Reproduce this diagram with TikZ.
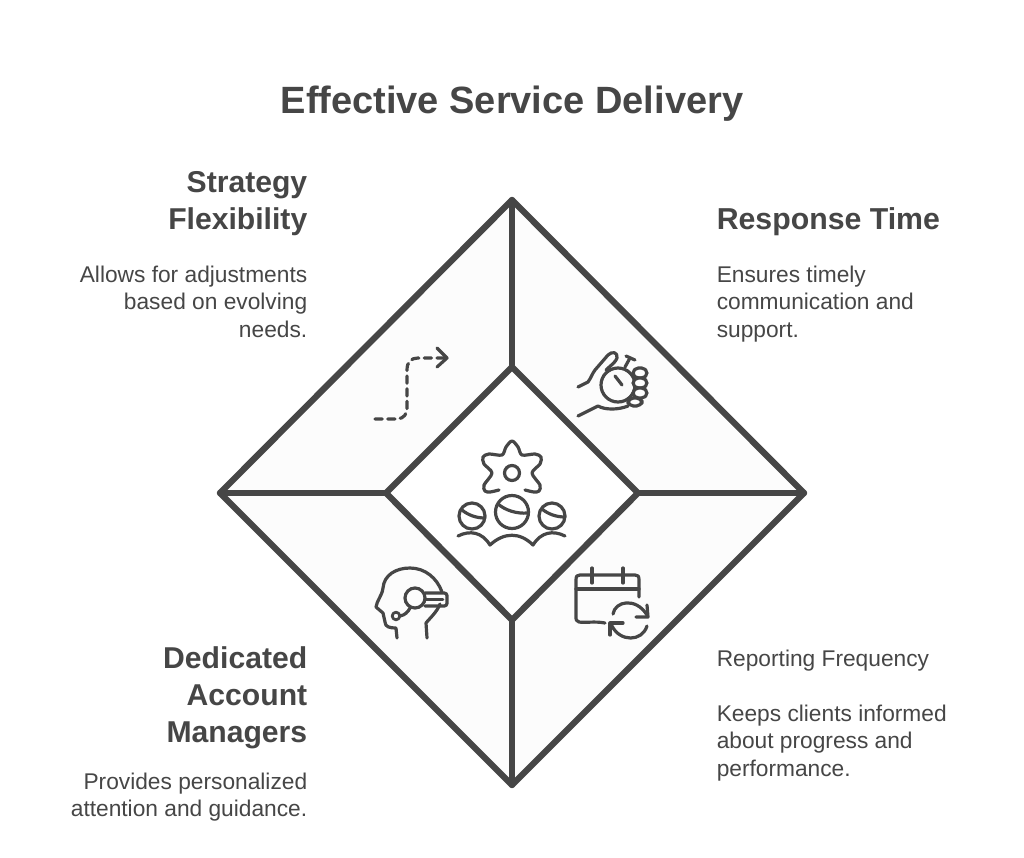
\documentclass[tikz,border=0pt]{standalone}
\usepackage{fontspec}
\setmainfont{Liberation Sans}
\definecolor{ink}{HTML}{464646}
\definecolor{panel}{HTML}{FCFCFC}
\usetikzlibrary{calc}
\begin{document}
\begin{tikzpicture}[x=0.75pt,y=-0.75pt,
  spoke/.style={draw=ink,line width=4.7pt,line cap=round,line join=round},
  icon/.style={draw=ink,line width=2.4pt,line cap=round,line join=round},
  thinicon/.style={draw=ink,line width=2.1pt,line cap=round,line join=round},
  titletext/.style={text=ink,font=\fontsize{28.5}{34}\selectfont\bfseries,inner sep=0pt},
  headL/.style={text=ink,font=\fontsize{22.6}{27.75}\selectfont\bfseries,inner sep=0pt,align=right,anchor=north east},
  headR/.style={text=ink,font=\fontsize{22.7}{27.75}\selectfont\bfseries,inner sep=0pt,align=left,anchor=north west},
  bodyL/.style={text=ink,font=\fontsize{17.05}{20.6}\selectfont,inner sep=0pt,align=right,anchor=north east},
  bodyR/.style={text=ink,font=\fontsize{17.05}{20.6}\selectfont,inner sep=0pt,align=left,anchor=north west}]
\useasboundingbox (0,0) rectangle (1024,857);
\fill[white] (0,0) rectangle (1024,857);

\coordinate (ot) at (512,200); \coordinate (or) at (804,493);
\coordinate (ob) at (512,785); \coordinate (ol) at (220,493);
\coordinate (it) at (512,367); \coordinate (ir) at (638,493);
\coordinate (ib) at (512,620); \coordinate (il) at (386,493);

\path[fill=panel] (ot)--(or)--(ob)--(ol)--cycle;
\path[fill=white] (it)--(ir)--(ib)--(il)--cycle;
\draw[spoke] (ot)--(it); \draw[spoke] (or)--(ir);
\draw[spoke] (ob)--(ib); \draw[spoke] (ol)--(il);
\draw[spoke] (ot)--(or)--(ob)--(ol)--cycle;
\draw[spoke] (it)--(ir)--(ib)--(il)--cycle;

% texts
\node[titletext] (title) at (512,104) {Effective Service Delivery};
\node[headL] (h1) at (307.5,171.5) {Strategy\\Flexibility};
\node[bodyL] (b1) at (307.5,265.5) {Allows for adjustments\\based on evolving\\needs.};
\node[headR] (h2) at (716.5,207.5) {Response Time};
\node[bodyR] (b2) at (716.5,265.5) {Ensures timely\\communication and\\support.};
\node[headL] (h3) at (307.5,646.5) {Dedicated\\Account\\Managers};
\node[bodyL] (b3) at (307.5,772.5) {Provides personalized\\attention and guidance.};
\node[bodyR] (b4) at (716.5,649.5) {Reporting Frequency\\[20.6pt]Keeps clients informed\\about progress and\\performance.};

% dashed arrow icon
\draw[icon,dash pattern=on 5.5pt off 4pt] (375,419) -- (398,419) .. controls (404,418) and (407,414) .. (407,408) -- (407,370) .. controls (407,362) and (411,358) .. (418,358) -- (445,358);
\draw[icon] (437,348) -- (447,358) -- (437,367);

% stopwatch icon
\draw[icon] (578,387) -- (588,382) .. controls (591,378) and (592,374) .. (595,370) -- (608,355) .. controls (612,351) and (618,352) .. (617,358) .. controls (616,362) and (610,366) .. (606,370);
\draw[icon] (618,385) circle[radius=17];
\draw[icon] (615,376) -- (622,385);
\draw[icon] (625,367) -- (630,358); \draw[icon] (626,356) -- (635,360);
\draw[icon,rounded corners=4pt,fill=white] (633,368) rectangle (647,378);
\draw[icon,rounded corners=4pt,fill=white] (633,378) rectangle (647,388);
\draw[icon,rounded corners=4pt,fill=white] (633,388) rectangle (647,398);
\draw[icon,rounded corners=4pt,fill=white] (628,398) rectangle (642,406);
\draw[icon] (578,416) -- (598,406) .. controls (605,410) and (618,410) .. (628,406);

% calendar icon
\draw[icon] (605,623) .. controls (595,621) and (585,623) .. (579,622) .. controls (576,621) and (576,620) .. (576,616) -- (576,580) .. controls (576,576) and (577,575) .. (580,575) -- (635,575) .. controls (638,575) and (639,576) .. (639,580) -- (639,597);
\draw[icon] (576,589) -- (639,589);
\draw[icon] (592,568) -- (592,583); \draw[icon] (623,568) -- (623,583);
\draw[icon] (613,614) .. controls (615,601) and (636,597) .. (647,615);
\draw[icon] (636,617) -- (648,617) -- (647,605);
\draw[icon] (647,626) .. controls (642,642) and (620,642) .. (612,626);
\draw[icon] (623,623) -- (610,623) -- (610,635);

% head icon
\draw[icon] (397,638) -- (396,628) .. controls (390,628) and (385,627) .. (385,622) -- (383,613) -- (376,607) .. controls (377,600) and (382,596) .. (383,588) .. controls (384,575) and (396,568) .. (410,568) .. controls (425,568) and (437,578) .. (442,592);
\draw[icon] (427,638) -- (426,623) .. controls (430,618) and (437,612) .. (440,604);
\draw[icon] (415,598) circle[radius=10];
\draw[icon,rounded corners=2pt] (425,593) -- (447,593) -- (447,606) -- (425,606);
\draw[thinicon] (426,599.5) -- (443,599.5);
\draw[icon] (410,608) .. controls (408,612) and (405,615) .. (400,616);
\draw[thinicon] (396,616) circle[radius=3.8];

% centre icon
\draw[icon,smooth] plot coordinates {(499,490) (490,492) (485,491) (484,485) (492,473) (484,464) (483,457) (489,454) (502,455) (506,447) (512,441) (518,447) (522,455) (535,454) (541,457) (540,464) (532,473) (540,485) (539,491) (534,492) (525,490)};
\draw[icon] (512,473) circle[radius=7.5];
\draw[icon] (512,512) circle[radius=16.5];
\draw[icon] (472,516) circle[radius=13];
\draw[icon] (552,516) circle[radius=13];
\draw[icon] (498,504) .. controls (505,510) and (516,514) .. (528,513);
\draw[icon] (462,510) .. controls (468,515) and (476,518) .. (485,518);
\draw[icon] (542,509) .. controls (548,514) and (556,517) .. (565,517);
\draw[icon] (458,536) .. controls (470,530) and (482,532) .. (490,545) .. controls (504,532) and (520,532) .. (533,545) .. controls (541,532) and (553,530) .. (565,536);
\end{tikzpicture}
\end{document}
